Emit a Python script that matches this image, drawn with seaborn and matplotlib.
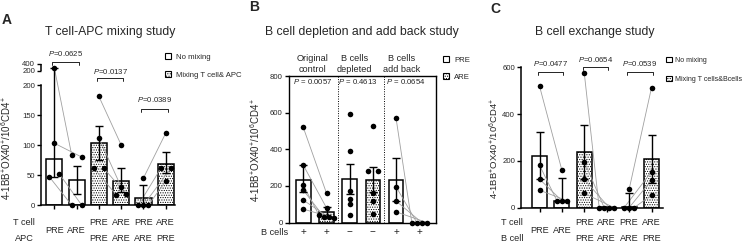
import numpy as np
import pandas as pd
import matplotlib
matplotlib.use("Agg")
import matplotlib.pyplot as plt
import seaborn as sns
from matplotlib.patches import Patch
from matplotlib.transforms import blended_transform_factory as blend

# ---------------- data ----------------
# Panel A: T cell-APC mixing study
a_tcell = ["PRE", "ARE", "PRE", "ARE", "PRE", "ARE"]
a_apc = ["", "", "PRE", "ARE", "ARE", "PRE"]
a_mixed = [False, False, True, True, True, True]
a_height = [76, 41, 103, 40, 11, 69]
a_err_lo = [47, 18, 75, 21, 0, 53]
a_err_hi = [280, 65, 132, 61, 34, 88]
a_points = [[290, 103, 47, 52], [84, 80, 0, 0],
            [181, 112, 61, 61], [100, 30, 17, 18],
            [45, 0, 0, 0], [120, 61, 61, 40]]
a_pairs = [(0, 1), (2, 3), (4, 5)]
a_pvals = ["0.0625", "0.0137", "0.0389"]
a_legend = ["No mixing", "Mixing T cell& APC"]
a_yticks = [0, 50, 100, 150, 200]
a_ytop_ticks = [200, 400]

# Panel B: B cell depletion and add back study
b_bcells = ["+", "+", "\u2212", "\u2212", "+", "+"]
b_is_are = [False, True, False, True, False, True]
b_height = [232, 58, 237, 233, 234, 0]
b_err_lo = [166, 38, 153, 165, 120, 0]
b_err_hi = [313, 84, 322, 304, 350, 0]
b_points = [[519, 313, 204, 177, 122, 73], [160, 80, 40, 30, 28, 25],
            [592, 390, 170, 126, 100, 40], [526, 280, 280, 162, 117, 49],
            [568, 195, 117, 58], [0, 0, 0, 0]]
b_pairs = [(0, 1), (4, 5)]
b_groups = ["Original\ncontrol", "B cells\ndepleted", "B cells\nadd back"]
b_pvals = ["0.0057", "0.4613", "0.0654"]
b_legend = ["PRE", "ARE"]
b_yticks = [0, 200, 400, 600, 800]

# Panel C: B cell exchange study
c_tcell = ["PRE", "ARE", "PRE", "ARE", "PRE", "ARE"]
c_bcell = ["", "", "PRE", "ARE", "ARE", "PRE"]
c_mixed = [False, False, True, True, True, True]
c_height = [222, 30, 237, 2, 4, 208]
c_err_lo = [122, 30, 123, 2, 4, 106]
c_err_hi = [325, 125, 352, 2, 61, 312]
c_points = [[520, 182, 122, 75], [160, 30, 30, 30],
            [574, 197, 121, 61], [0, 0, 0, 0],
            [78, 0, 0, 0], [513, 154, 118, 54]]
c_pairs = [(0, 1), (2, 3), (4, 5)]
c_pvals = ["0.0477", "0.0654", "0.0539"]
c_legend = ["No mixing", "Mixing T cells&Bcells"]
c_yticks = [0, 200, 400, 600]

YLABEL = ("4-1BB$\\mathregular{^{+}}$OX40$\\mathregular{^{+}}$/10$\\mathregular{^{6}}$"
          "CD4$\\mathregular{^{+}}$")

# ---------------- style ----------------
sns.set_style("ticks")
plt.rcParams["font.family"] = ["Liberation Sans", "DejaVu Sans"]
plt.rcParams["mathtext.fontset"] = "custom"
plt.rcParams["mathtext.rm"] = "Liberation Sans"
plt.rcParams["mathtext.it"] = "Liberation Sans:italic"
plt.rcParams["mathtext.bf"] = "Liberation Sans:bold"
plt.rcParams["hatch.linewidth"] = 0.5
HATCH = "......."
FS_TICK = 5.6
FS_LAB = 6.6
FS_P = 5.6
FS_LEG = 5.6

W, H = 746, 245
fig = plt.figure(figsize=(W / 100, H / 100), dpi=100)


def rect(l, t, r, b):
    return [l / W, 1 - b / H, (r - l) / W, (b - t) / H]


def fy(py):
    return 1 - py / H


def fx(px):
    return px / W


def spread(ax, center, values, diam_px):
    vals = np.asarray(values, float)
    ypix = ax.transData.transform(np.column_stack([np.full(len(vals), float(center)), vals]))[:, 1]
    order = np.argsort(ypix, kind="stable")
    clusters, cur = [], [order[0]]
    for i in order[1:]:
        if ypix[i] - ypix[cur[-1]] < diam_px * 0.9:
            cur.append(i)
        else:
            clusters.append(cur)
            cur = [i]
    clusters.append(cur)
    unit = ax.transData.transform((center + 1, 0))[0] - ax.transData.transform((center, 0))[0]
    xs = np.full(len(vals), float(center))
    for c in clusters:
        n = len(c)
        if n == 1:
            continue
        step = 2 * diam_px if n == 2 else diam_px
        for k, idx in enumerate(sorted(c)):
            xs[idx] = center + (k - (n - 1) / 2) * step / unit
    return xs


def panel(ax, heights, lo, hi, points, mixed, pairs, width, xlim, ylim, diam_px=5.0):
    n = len(heights)
    df = pd.DataFrame({"bar": np.arange(n), "value": heights})
    sns.barplot(data=df, x="bar", y="value", color="white", saturation=1,
                edgecolor="black", linewidth=1.1, width=width, errorbar=None,
                ax=ax, zorder=2)
    for p, m in zip(ax.patches, mixed):
        if m:
            p.set_hatch(HATCH)
    ax.set_xlim(*xlim)
    ax.set_ylim(*ylim)
    h = np.asarray(heights, float)
    l = np.asarray(lo, float)
    u = np.asarray(hi, float)
    mask = (u > h) | (l < h)
    ax.errorbar(np.arange(n)[mask], h[mask], yerr=[(h - l)[mask], (u - h)[mask]],
                fmt="none", ecolor="black", elinewidth=1.0, capsize=2.6,
                capthick=1.0, zorder=3)
    xs_all = [spread(ax, k, v, diam_px) for k, v in enumerate(points)]
    for a, b in pairs:
        for i in range(len(points[a])):
            ax.plot([xs_all[a][i], xs_all[b][i]], [points[a][i], points[b][i]],
                    color="#a0a0a0", lw=0.6, zorder=2.5)
    allx = np.concatenate(xs_all)
    ally = np.concatenate([np.asarray(v, float) for v in points])
    sns.scatterplot(x=allx, y=ally, color="black", s=16, linewidth=0, ax=ax,
                    zorder=4, legend=False, clip_on=False)
    ax.set_xlim(*xlim)
    ax.set_ylim(*ylim)
    ax.set_xlabel("")
    ax.set_ylabel("")
    ax.tick_params(axis="both", direction="out", length=3, width=1.0,
                   labelsize=FS_TICK, pad=1.2, color="black")
    for s in ax.spines.values():
        s.set_linewidth(1.1)
        s.set_color("black")


def bracket(ax, x1, x2, ypx, text, typx):
    tr = blend(ax.transData, fig.transFigure)
    yb = fy(ypx)
    d = 3.5 / H
    ax.plot([x1, x1, x2, x2], [yb - d, yb, yb, yb - d], color="black", lw=0.6,
            transform=tr, clip_on=False)
    ax.text((x1 + x2) / 2, fy(typx), text, transform=tr, ha="center",
            va="center", fontsize=FS_P)


def legend(ax, labels, hatches, lx, ty, spacing, fs=FS_LEG, pad=0.6):
    handles = [Patch(facecolor="white", edgecolor="black", linewidth=0.8,
                     hatch=hh) for hh in hatches]
    ax.legend(handles, labels, loc="upper left",
              bbox_to_anchor=(fx(lx), fy(ty)), bbox_transform=fig.transFigure,
              frameon=False, fontsize=fs, handlelength=0.8,
              handleheight=0.8, handletextpad=pad, labelspacing=spacing,
              borderpad=0, borderaxespad=0)


# ---------------- Panel A ----------------
BRK, GAP_U, K = 200.0, 224.0, 0.055


def fwd(y):
    y = np.asarray(y, float)
    return np.where(y <= BRK, y, GAP_U + (y - BRK) * K)


def inv(u):
    u = np.asarray(u, float)
    return np.where(u <= BRK, u, np.where(u < GAP_U, BRK, BRK + (u - GAP_U) / K))


axA = fig.add_axes(rect(41, 64, 175, 205))
axA.set_yscale("function", functions=(fwd, inv))
panel(axA, a_height, a_err_lo, a_err_hi, a_points, a_mixed, a_pairs, 0.72,
      (-0.596, 5.413), (0, 400))
sns.despine(ax=axA)
axA.spines["left"].set_bounds(0, BRK)
axA.plot([0, 0], [BRK + 0.5, 400], color="black", lw=1.1, clip_on=False,
         transform=blend(axA.transAxes, axA.transData), solid_capstyle="butt")
ytk = a_yticks + [a_ytop_ticks[0] + 0.5, a_ytop_ticks[1]]
axA.set_yticks(ytk, [str(v) for v in a_yticks] + [str(v) for v in a_ytop_ticks])
axA.minorticks_off()
axA.set_xticks(range(6), [""] * 6)
trA = blend(axA.transData, fig.transFigure)
for k in range(6):
    if a_apc[k]:
        axA.text(k, fy(222), a_tcell[k], transform=trA, ha="center", va="center", fontsize=FS_LAB)
        axA.text(k, fy(238), a_apc[k], transform=trA, ha="center", va="center", fontsize=FS_LAB)
    else:
        axA.text(k, fy(230), a_tcell[k], transform=trA, ha="center", va="center", fontsize=FS_LAB)
fig.text(fx(24), fy(222), "T cell", ha="center", va="center", fontsize=FS_LAB)
fig.text(fx(24), fy(238), "APC", ha="center", va="center", fontsize=FS_LAB)
for j, (pv, yb, yt) in enumerate(zip(a_pvals, [62, 78, 109], [54, 71, 100])):
    bracket(axA, 2 * j - 0.1, 2 * j + 1.1, yb, "$\\mathit{P}$=" + pv, yt)
legend(axA, a_legend, [None, HATCH], 165, 53, 1.35)
fig.text(fx(110), fy(32), "T cell-APC mixing study", ha="center", va="center", fontsize=8.8)
fig.text(fx(6), fy(148), YLABEL, rotation=90, ha="center", va="center", fontsize=7)
fig.text(fx(7), fy(20), "A", ha="center", va="center", fontsize=10, fontweight="bold")

# ---------------- Panel B ----------------
axB = fig.add_axes(rect(288.5, 76, 435.7, 222.5))
panel(axB, b_height, b_err_lo, b_err_hi, b_points, b_is_are, b_pairs, 0.63,
      (-0.638, 5.707), (0, 800))
axB.set_yticks(b_yticks)
axB.set_xticks(range(6), [""] * 6)
axB.tick_params(axis="x", length=0)
for s in axB.spines.values():
    s.set_linewidth(1.0)
for xd in (1.5, 3.5):
    axB.axvline(xd, color="black", lw=0.7, ls=(0, (1, 1.5)), zorder=1)
trB = blend(axB.transData, fig.transFigure)
for k in range(6):
    axB.text(k, fy(232), b_bcells[k], transform=trB, ha="center", va="center", fontsize=FS_LAB + 0.6)
fig.text(fx(275), fy(232), "B cells", ha="center", va="center", fontsize=FS_LAB)
for g, (lab, pv, xh, xp) in enumerate(zip(b_groups, b_pvals, [0.38, 2.2, 4.25], [0.4, 2.35, 4.4])):
    axB.text(xh, fy(64), lab, transform=trB, ha="center", va="center",
             fontsize=FS_LAB, linespacing=1.15)
    axB.text(xp, fy(82), "$\\mathit{P}$ = " + pv, transform=trB, ha="center",
             va="center", fontsize=FS_P)
legend(axB, b_legend, [None, HATCH], 443, 56, 1.25)
fig.text(fx(362), fy(32), "B cell depletion and add back study", ha="center", va="center", fontsize=8.8)
fig.text(fx(255), fy(150), YLABEL, rotation=90, ha="center", va="center", fontsize=7)
fig.text(fx(254), fy(7), "B", ha="center", va="center", fontsize=10, fontweight="bold")

# ---------------- Panel C ----------------
axC = fig.add_axes(rect(521, 67.3, 663, 207.7))
panel(axC, c_height, c_err_lo, c_err_hi, c_points, c_mixed, c_pairs, 0.67,
      (-0.826, 5.513), (0, 600))
sns.despine(ax=axC)
axC.set_yticks(c_yticks)
axC.set_xticks(range(6), [""] * 6)
trC = blend(axC.transData, fig.transFigure)
for k in range(6):
    if c_bcell[k]:
        axC.text(k, fy(222), c_tcell[k], transform=trC, ha="center", va="center", fontsize=FS_LAB)
        axC.text(k, fy(238), c_bcell[k], transform=trC, ha="center", va="center", fontsize=FS_LAB)
    else:
        axC.text(k, fy(230), c_tcell[k], transform=trC, ha="center", va="center", fontsize=FS_LAB)
fig.text(fx(501), fy(222), "T cell", ha="left", va="center", fontsize=FS_LAB)
fig.text(fx(501), fy(238), "B cell", ha="left", va="center", fontsize=FS_LAB)
for j, (pv, yb, yt) in enumerate(zip(c_pvals, [72, 67, 72], [64, 59, 64])):
    bracket(axC, 2 * j - 0.08, 2 * j + 1.05, yb, "$\\mathit{P}$=" + pv, yt)
legend(axC, c_legend, [None, HATCH], 666, 57, 1.6, fs=5.1, pad=0.5)
fig.text(fx(595), fy(32), "B cell exchange study", ha="center", va="center", fontsize=8.8)
fig.text(fx(494.5), fy(148), YLABEL, rotation=90, ha="center", va="center", fontsize=6.8)
fig.text(fx(495), fy(9), "C", ha="center", va="center", fontsize=10, fontweight="bold")

fig.savefig("out.png", dpi=100)
